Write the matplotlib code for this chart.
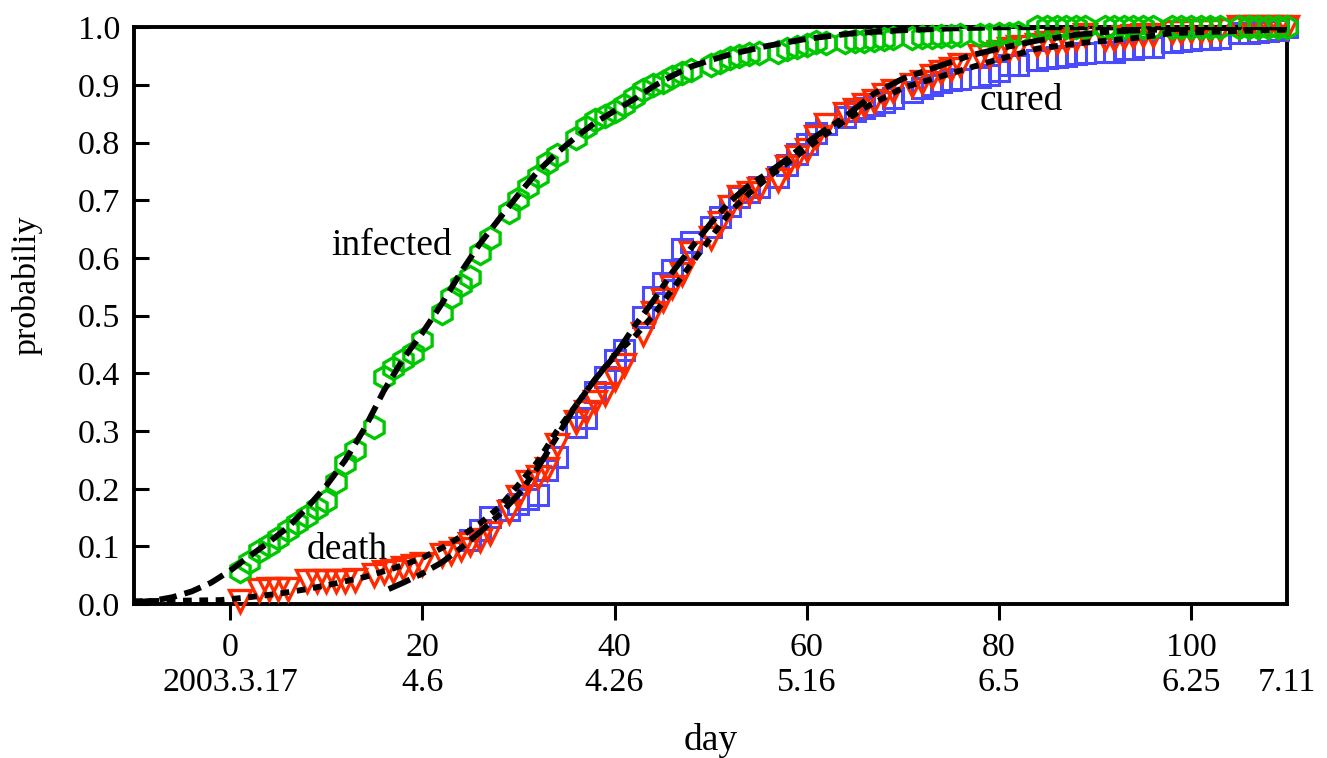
import matplotlib
matplotlib.use("Agg")
import matplotlib.pyplot as plt

plt.rcParams['font.family'] = ['Liberation Serif', 'DejaVu Serif']

"------------------------------------------DATA------------------------------------------"
# infected (green hexagons)
inf_day = [1, 2, 3, 4, 5, 6, 7, 8, 9, 10, 11, 12, 13, 15, 16, 17, 18, 19, 20, 22, 23, 24, 25, 26, 27,
           29, 30, 31, 32, 33, 34, 36, 37, 38, 39, 40, 41, 42, 43, 44, 45, 46, 47, 48, 50, 51, 52, 53,
           54, 55, 57, 58, 59, 60, 61, 62, 64, 65, 66, 67, 68, 69, 71, 72, 73, 74, 75, 76, 78, 79, 80,
           81, 82, 84, 85, 86, 87, 88, 89, 91, 92, 93, 94, 95, 96, 98, 99, 100, 101, 102, 103, 105,
           106, 107, 108, 109, 110]
inf_p = [0.057, 0.073, 0.092, 0.103, 0.115, 0.128, 0.14, 0.152, 0.166, 0.178, 0.212, 0.244, 0.268,
         0.307, 0.394, 0.409, 0.423, 0.436, 0.458, 0.505, 0.533, 0.553, 0.567, 0.608, 0.634,
         0.68, 0.703, 0.723, 0.742, 0.764, 0.778, 0.808, 0.828, 0.84, 0.847, 0.855, 0.865, 0.88,
         0.892, 0.9, 0.906, 0.914, 0.92, 0.926, 0.934, 0.94, 0.946, 0.95, 0.953, 0.955, 0.958,
         0.963, 0.966, 0.969, 0.974, 0.972, 0.974, 0.977, 0.977, 0.978, 0.98, 0.981, 0.982, 0.983,
         0.984, 0.985, 0.985, 0.986, 0.987, 0.987, 0.988, 0.989, 0.99, 1.0, 1.0, 1.0, 1.0, 1.0,
         1.0, 1.0, 1.0, 1.0, 1.0, 1.0, 1.0, 1.0, 1.0, 1.0, 1.0, 1.0, 1.0, 1.0, 1.0, 1.0, 1.0, 1.0,
         1.0]

# cured (blue squares)
cur_day = [25, 26, 27, 29, 30, 31, 32, 33, 34, 36, 37, 38, 39, 40, 41, 43, 44, 45, 46, 47, 48, 50,
           51, 52, 53, 54, 55, 57, 58, 59, 60, 61, 62, 64, 65, 66, 67, 68, 69, 71, 72, 73, 74, 75,
           76, 78, 79, 80, 81, 82, 84, 85, 86, 87, 88, 89, 91, 92, 93, 94, 95, 96, 98, 99, 100,
           101, 102, 103, 105, 106, 107, 108, 109, 110]
cur_p = [0.112, 0.128, 0.151, 0.163, 0.174, 0.183, 0.19, 0.232, 0.255, 0.307, 0.322, 0.368, 0.394,
         0.423, 0.44, 0.498, 0.533, 0.556, 0.579, 0.616, 0.628, 0.654, 0.671, 0.69, 0.706, 0.715,
         0.723, 0.741, 0.761, 0.781, 0.798, 0.816, 0.833, 0.845, 0.855, 0.86, 0.865, 0.871, 0.878,
         0.888, 0.894, 0.9, 0.905, 0.908, 0.911, 0.914, 0.917, 0.925, 0.934, 0.934, 0.943, 0.946,
         0.948, 0.951, 0.954, 0.955, 0.957, 0.957, 0.963, 0.963, 0.966, 0.966, 0.975, 0.977,
         0.978, 0.98, 0.98, 0.981, 0.99, 0.99, 0.992, 0.993, 0.995, 1.0]

# death (red triangles)
dth_day = [1, 3, 4, 5, 6, 8, 9, 10, 11, 12, 13, 15, 16, 17, 18, 19, 20, 22, 23, 24, 25, 26, 27,
           29, 30, 31, 32, 33, 34, 36, 37, 38, 39, 40, 41, 43, 44, 45, 46, 47, 48, 50, 51, 52, 53,
           54, 55, 57, 58, 59, 60, 61, 62, 64, 65, 66, 67, 68, 69, 71, 72, 73, 74, 75, 76, 78, 79,
           80, 81, 82, 84, 85, 86, 87, 88, 89, 91, 92, 93, 94, 95, 96, 98, 99, 100, 101, 102, 103,
           105, 106, 107, 108, 109, 110]
dth_p = [0.005, 0.024, 0.027, 0.027, 0.027, 0.04, 0.04, 0.04, 0.04, 0.04, 0.042, 0.05, 0.056,
         0.058, 0.062, 0.066, 0.07, 0.085, 0.088, 0.095, 0.105, 0.112, 0.123, 0.16, 0.186, 0.212,
         0.221, 0.235, 0.276, 0.316, 0.333, 0.35, 0.365, 0.391, 0.414, 0.469, 0.504, 0.527, 0.55,
         0.573, 0.608, 0.634, 0.66, 0.689, 0.706, 0.712, 0.72, 0.735, 0.758, 0.775, 0.787, 0.81,
         0.83, 0.85, 0.856, 0.865, 0.873, 0.882, 0.89, 0.9, 0.905, 0.915, 0.923, 0.928, 0.934,
         0.951, 0.951, 0.957, 0.962, 0.966, 0.969, 0.972, 0.975, 0.977, 0.98, 0.986, 0.98, 0.98,
         0.983, 0.985, 0.986, 0.987, 0.992, 0.992, 0.993, 0.994, 0.994, 0.995, 1.0, 1.0, 1.0, 1.0,
         1.0, 1.0]

# fitted curves
inf_fit_x = [-10, -8, -6, -4, -2, 0, 2, 4, 6, 8, 10, 12, 14, 16, 18, 20, 22, 24, 26, 28, 30, 32,
             34, 36, 38, 40, 42, 44, 46, 48, 50, 52, 56, 60, 65, 70, 75, 80, 90, 110]
inf_fit_y = [0.003, 0.006, 0.012, 0.022, 0.037, 0.058, 0.083, 0.107, 0.133, 0.167, 0.205, 0.25,
             0.305, 0.37, 0.425, 0.47, 0.52, 0.575, 0.625, 0.668, 0.71, 0.75, 0.782, 0.81, 0.835,
             0.855, 0.875, 0.897, 0.916, 0.932, 0.943, 0.953, 0.968, 0.98, 0.99, 0.995, 0.998,
             1.0, 1.0, 1.0]

dth_fit_x = [-10, -5, -1, 2, 5, 8, 11, 14, 17, 20, 22, 24, 26, 28, 30, 32, 34, 36, 38, 40, 42,
             44, 46, 48, 50, 52, 54, 56, 58, 60, 62, 64, 66, 70, 75, 79, 84, 88, 92, 95, 98, 102,
             110]
dth_fit_y = [0.005, 0.006, 0.007, 0.012, 0.018, 0.026, 0.036, 0.047, 0.062, 0.08, 0.097, 0.117,
             0.14, 0.168, 0.207, 0.247, 0.3, 0.345, 0.39, 0.432, 0.462, 0.5, 0.545, 0.59, 0.635,
             0.68, 0.712, 0.74, 0.765, 0.79, 0.815, 0.838, 0.86, 0.895, 0.92, 0.94, 0.963, 0.972,
             0.978, 0.983, 0.99, 0.992, 0.996]

cur_fit_x = [16.5, 18, 20, 22, 24, 26, 28, 30, 32, 34, 36, 38, 40, 42, 44, 46, 48, 50, 52, 54,
             56, 58, 60, 62, 64, 67, 70, 74, 77, 80, 84, 88, 92, 100, 110]
cur_fit_y = [0.026, 0.037, 0.053, 0.072, 0.097, 0.125, 0.155, 0.19, 0.236, 0.29, 0.345, 0.39,
             0.43, 0.48, 0.525, 0.575, 0.618, 0.66, 0.698, 0.726, 0.748, 0.772, 0.8, 0.823,
             0.845, 0.885, 0.911, 0.934, 0.951, 0.963, 0.977, 0.987, 0.993, 0.998, 1.0]

tick_days = [0, 20, 40, 60, 80, 100]
tick_dates = ['2003.3.17', '4.6', '4.26', '5.16', '6.5', '6.25']
end_day = 110
end_date = '7.11'

"------------------------------------------PLOT------------------------------------------"
fig = plt.figure(figsize=(13.27, 7.58), dpi=100)
ax = fig.add_axes([0.101, 0.203, 0.869, 0.761])

# data points
ax.plot(cur_day, cur_p, 's', ms=14, mfc='none', mec='#4a4aff', mew=2.2, clip_on=False, zorder=3)
ax.plot(dth_day, dth_p, 'v', ms=16, mfc='none', mec='#ff2a00', mew=2.4, clip_on=False, zorder=4)
ax.plot(inf_day, inf_p, 'h', ms=16, mfc='none', mec='#00c800', mew=2.4, clip_on=False, zorder=5)

# fitted curves
ax.plot(inf_fit_x, inf_fit_y, color='black', lw=4.2, dashes=(3, 1.4), zorder=6)
ax.plot(dth_fit_x, dth_fit_y, color='black', lw=4.2, dashes=(1.5, 1.3), zorder=6)
ax.plot(cur_fit_x, cur_fit_y, color='black', lw=4.2, dashes=(4, 1.3, 1.6, 1.3), zorder=6)

# labels of the curves
ax.text(16.8, 0.622, 'infected', fontsize=27, ha='center', va='center')
ax.text(12.2, 0.095, 'death', fontsize=27, ha='center', va='center')
ax.text(82.3, 0.872, 'cured', fontsize=27, ha='center', va='center')

ax.set_xlim(-10, 110)
ax.set_ylim(0, 1.0)

ax.set_xticks(tick_days)
ax.set_xticklabels([str(d) + '\n' + s for d, s in zip(tick_days, tick_dates)])
ax.set_xticks([end_day], minor=True)
ax.set_xticklabels(['\n' + end_date], minor=True)
ax.set_yticks([i / 10 for i in range(11)])
ax.set_yticklabels(['%.1f' % (i / 10) for i in range(11)])

ax.tick_params(axis='x', which='major', direction='out', length=11.5, width=2.2, labelsize=24.5,
               pad=9)
ax.tick_params(axis='x', which='minor', length=0, labelsize=24.5, pad=9 + 11.5)
ax.tick_params(axis='y', direction='in', length=11, width=2.2, labelsize=24.5, pad=10)

for sp in ax.spines.values():
    sp.set_linewidth(2.8)

ax.set_xlabel('day', fontsize=27, labelpad=18)
ax.set_ylabel('probabiliy', fontsize=24.5)
ax.yaxis.set_label_coords(-0.079, 0.553)

plt.savefig('out.png', dpi=100)
